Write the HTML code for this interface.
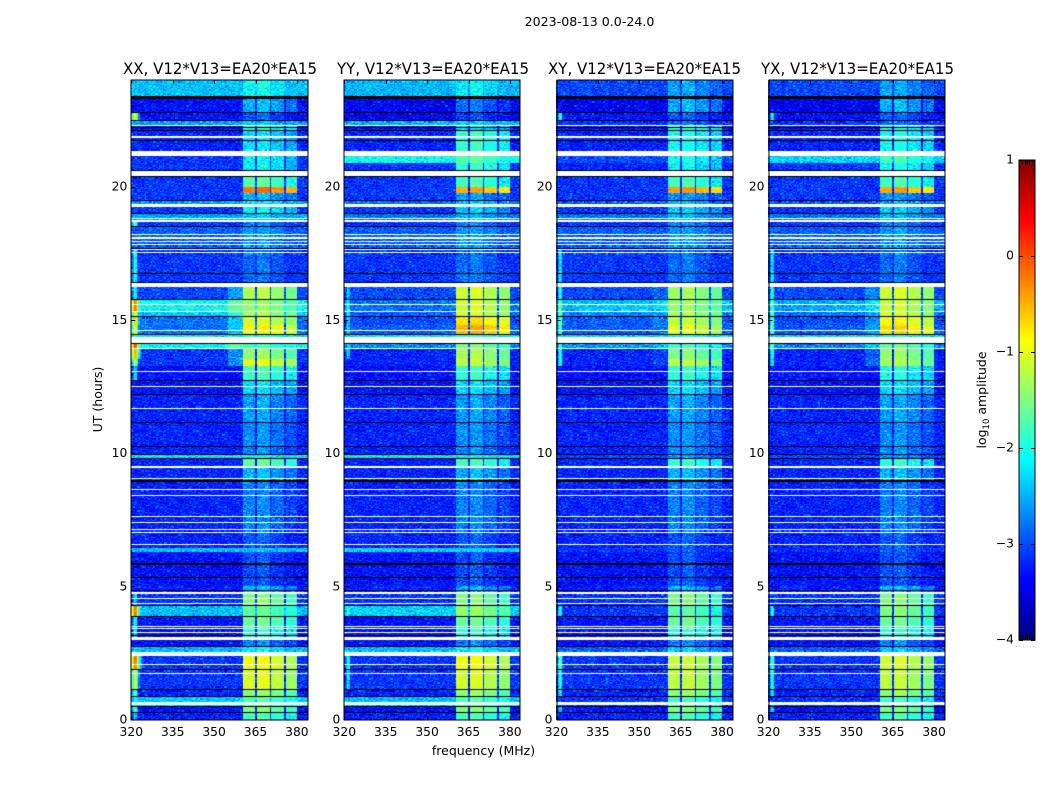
<!DOCTYPE html>
<html lang="en">
<head>
<meta charset="utf-8">
<title>2023-08-13 dynamic spectra</title>
<style>
html,body{margin:0;padding:0;background:#fff;width:1050px;height:800px;overflow:hidden}
#figure{position:relative;width:1050px;height:800px;background:#fff}
canvas{position:absolute;top:80px;display:block}
#cbar-canvas{top:160px;left:1019px}
svg{position:absolute;left:0;top:0}
text{font-family:"DejaVu Sans","Liberation Sans",sans-serif;fill:#000}
</style>
</head>
<body>
<div id="figure">
<canvas id="panel-0" width="177" height="640" style="left:131px"></canvas>
<canvas id="panel-1" width="176" height="640" style="left:344px"></canvas>
<canvas id="panel-2" width="177" height="640" style="left:556px"></canvas>
<canvas id="panel-3" width="177" height="640" style="left:768px"></canvas>
<canvas id="cbar-canvas" width="16" height="480"></canvas>
<svg id="overlay" width="1050" height="800">
<text x="589.5" y="26" font-size="12.6" text-anchor="middle">2023-08-13 0.0-24.0</text>
<text x="220" y="74" font-size="16" text-anchor="middle" textLength="194" lengthAdjust="spacingAndGlyphs">XX, V12*V13=EA20*EA15</text>
<text x="433" y="74" font-size="16" text-anchor="middle" textLength="192" lengthAdjust="spacingAndGlyphs">YY, V12*V13=EA20*EA15</text>
<text x="644.5" y="74" font-size="16" text-anchor="middle" textLength="193" lengthAdjust="spacingAndGlyphs">XY, V12*V13=EA20*EA15</text>
<text x="857.5" y="74" font-size="16" text-anchor="middle" textLength="193" lengthAdjust="spacingAndGlyphs">YX, V12*V13=EA20*EA15</text>
<text x="483.5" y="755" font-size="12.5" text-anchor="middle">frequency (MHz)</text>
<text transform="translate(102,399.5) rotate(-90)" font-size="12.5" text-anchor="middle">UT (hours)</text>
<text transform="translate(986,400) rotate(-90)" font-size="12.5" text-anchor="middle">log<tspan font-size="8.5" dy="3">10</tspan><tspan dy="-3"> amplitude</tspan></text>
</svg>
</div>
<script>
/* Hours at which each horizontal stretch of the spectrogram begins (top to bottom). */
const segmentTop = [24,23.28,22.76,22.49,22.29,22.08,21.14,20.9,20.35,19.97,19.75,19.45,19.23,18.96,18.68,18.47,17.65,16.23,15.74,15.35,15.11,14.8,14.46,14.1,13.9,13.54,13.28,12.7,12.19,11.13,9.95,9.76,9.45,8.91,7,6.45,6.28,5,4.72,4.25,3.85,3.47,2.99,2.72,2.39,1.85,1.12,0.86,0.47,0.26];

/* log10 amplitude outside the interference bands, per polarisation. */
const backgroundXX = [-2.45,-3.35,-3.35,-2.6,-3.35,-3.25,-3.15,-3.15,-3.15,-3.15,-3.15,-2.6,-3.15,-2.6,-3.15,-2.95,-3.15,-3.05,-2.1,-2.4,-2.85,-2.85,-2.2,-2.15,-3.15,-3.15,-3.35,-3.35,-3.25,-3.25,-2.25,-3.25,-3.25,-3.25,-3.25,-2.45,-3.35,-3.25,-3.15,-2.45,-3.35,-3.35,-3.35,-2.5,-3.15,-3.15,-3.25,-2.4,-3.35,-3.25];
const backgroundYY = [-2.5,-3.45,-3.45,-2.5,-3.35,-3.25,-2.1,-3.15,-3.15,-3.15,-3.15,-2.85,-3.15,-2.85,-3.15,-2.95,-3.15,-3.05,-2.85,-2.95,-3.05,-2.95,-2.2,-2.75,-3.25,-3.25,-3.35,-3.35,-3.25,-3.25,-2.25,-3.25,-3.25,-3.25,-3.25,-2.35,-3.35,-3.25,-3.15,-2.35,-3.35,-3.35,-3.35,-2.5,-3.15,-3.15,-3.25,-2.5,-3.35,-3.25];
const backgroundXY = [-3.05,-3.45,-3.35,-3.15,-3.35,-3.25,-3.05,-3.25,-3.15,-3.15,-3.15,-2.95,-3.15,-2.85,-3.15,-2.95,-3.15,-3.05,-2.45,-2.75,-2.95,-2.95,-2.3,-2.65,-3.25,-3.25,-3.35,-3.35,-3.25,-3.25,-3.05,-3.25,-3.25,-3.25,-3.25,-3.15,-3.35,-3.25,-3.15,-3.15,-3.35,-3.35,-3.35,-2.95,-3.15,-3.15,-3.25,-3.15,-3.35,-3.25];
const backgroundYX = [-3.05,-3.45,-3.35,-3.15,-3.35,-3.25,-2.35,-3.15,-3.15,-3.15,-3.15,-2.95,-3.15,-2.85,-3.15,-2.95,-3.15,-3.05,-2.55,-2.85,-3.05,-2.95,-2.3,-2.75,-3.25,-3.25,-3.35,-3.35,-3.25,-3.25,-3.05,-3.25,-3.25,-3.25,-3.25,-3.15,-3.35,-3.25,-3.15,-3.15,-3.35,-3.35,-3.35,-2.95,-3.15,-3.15,-3.25,-3.15,-3.35,-3.25];

/* log10 amplitude inside the 360-380 MHz interference bands, per polarisation. */
const interferenceXX = [-2.2,-2.6,-3.05,-2.5,-2,-2.35,-2.25,-2.25,-1.8,-0.3,-2.6,-2.45,-2.25,-2.5,-2.85,-2.75,-2.95,-1.35,-1.5,-1.4,-1.2,-0.95,-2,-1.9,-1.5,-1.1,-1.9,-2.4,-2.7,-2.8,-2.2,-1.75,-2.6,-2.85,-3.05,-2.7,-3.1,-2.6,-1.6,-1.75,-1.7,-2,-2.85,-2.25,-1.05,-1.15,-1.5,-1.8,-1.6,-1.9];
const interferenceYY = [-2.3,-2.95,-3.15,-2.5,-2.35,-1.95,-1.8,-2,-1.9,-0.55,-2.75,-2.5,-2.5,-2.6,-2.85,-2.75,-2.95,-1.2,-1.2,-1.2,-0.85,-0.6,-2,-1.6,-1.4,-1.3,-2,-2.4,-2.7,-2.8,-2.25,-1.9,-2.6,-2.85,-3.05,-2.6,-3.1,-2.6,-1.6,-1.5,-1.7,-2,-2.85,-2.25,-1.05,-1.2,-1.5,-1.8,-1.6,-1.9];
const interferenceXY = [-2.7,-2.6,-3.05,-2.95,-2,-2.15,-2.15,-2.25,-1.9,-0.5,-2.75,-2.6,-2.5,-2.6,-2.85,-2.75,-2.95,-1.45,-1.45,-1.4,-1.3,-1.1,-2.1,-1.9,-1.6,-1.3,-2,-2.4,-2.7,-2.8,-2.75,-1.95,-2.6,-2.85,-3.05,-3.05,-3.1,-2.6,-1.6,-1.8,-1.7,-2,-2.85,-2.5,-1.25,-1.3,-1.5,-1.9,-1.6,-1.9];
const interferenceYX = [-2.7,-2.6,-3.05,-2.95,-2.1,-2.15,-1.9,-2.15,-1.9,-0.55,-2.75,-2.6,-2.5,-2.6,-2.85,-2.75,-2.95,-1.2,-1.25,-1.2,-1,-0.8,-2.1,-1.7,-1.5,-1.4,-2.1,-2.4,-2.7,-2.8,-2.75,-2,-2.6,-2.85,-3.05,-3.05,-3.1,-2.6,-1.6,-1.6,-1.7,-2,-2.85,-2.5,-1.2,-1.3,-1.5,-1.9,-1.6,-1.9];

/* Peak log10 amplitude of the low-frequency edge (320-325 MHz); -9 = no edge feature. */
const edgeXX = [-9,-9,-0.9,-9,-9,-9,-9,-9,-9,-9,-9,-9,-9,-9,-1.6,-9,-1.9,-2,-0.1,-0.9,-0.6,-0.9,-1.6,0.1,-0.4,-1.2,-2.2,-9,-9,-9,-9,-9,-9,-9,-9,-9,-9,-9,-2.2,-0.1,-2,-2.2,-9,-2.2,-0.1,-1,-1.6,-2,-1.6,-2.2];
const edgeYY = [-9,-9,-9,-9,-9,-9,-9,-9,-9,-9,-9,-9,-9,-9,-9,-9,-9,-2.3,-2,-2.1,-2.2,-2.2,-9,-2.2,-2.3,-9,-9,-9,-9,-9,-9,-9,-9,-9,-9,-9,-9,-9,-9,-1.9,-9,-9,-9,-9,-2,-2.2,-9,-9,-9,-9];
const edgeXY = [-9,-9,-2,-9,-9,-9,-9,-9,-9,-9,-9,-9,-9,-9,-9,-9,-2.2,-2,-1.6,-1.6,-1.6,-1.8,-9,-1.8,-2,-2,-9,-9,-9,-9,-9,-9,-9,-9,-9,-9,-9,-9,-9,-2,-9,-9,-9,-9,-1.7,-2,-2.2,-9,-2.2,-9];
const edgeYX = [-9,-9,-2.1,-9,-9,-9,-9,-9,-9,-9,-9,-9,-9,-9,-9,-9,-2.2,-2,-1.7,-1.7,-1.7,-1.7,-9,-1.6,-2,-2.1,-9,-9,-9,-9,-9,-9,-9,-9,-9,-9,-9,-9,-9,-2,-9,-9,-9,-9,-1.8,-2,-2.2,-9,-2.2,-9];

/* Flagged time ranges in hours: white = no data, black = zero-filled. */
const whiteGapStart = [22.29,21.84,21.14,20.39,19.23,18.78,18.68,18.2,18.05,17.93,17.79,17.61,17.49,16.23,15.56,15.32,14.58,14.14,13.9,13.04,12.48,11.65,9.45,9.01,8.6,8.39,7.59,7.37,7.11,7,6.55,4.72,4.52,4.32,3.47,3.39,3.26,2.99,2.39,2.05,1.7,0.54];
const whiteGapEnd = [22.33,21.88,21.34,20.58,19.34,18.84,18.74,18.24,18.1,17.96,17.85,17.65,17.53,16.39,15.6,15.35,14.61,14.36,13.93,13.08,12.51,11.69,9.51,9.05,8.66,8.44,7.64,7.4,7.14,7.04,6.59,4.8,4.56,4.36,3.51,3.42,3.3,3.11,2.54,2.09,1.74,0.66];
const blackGapStart = [23.28,22.76,22.49,22.2,22.08,21.7,20.58,20.35,19.45,18.96,18.47,17.65,16.71,16.39,15.74,15.11,14.44,14.1,12.7,12.19,11.13,10.23,9.92,9.76,8.91,5.81,5.31,4.83,4.25,3.85,3.14,2.72,1.85,1.12,0.86,0.47,0.26];
const blackGapEnd = [23.39,22.8,22.51,22.24,22.12,21.74,20.62,20.39,19.49,19.01,18.51,17.7,16.74,16.41,15.77,15.14,14.46,14.14,12.74,12.22,11.17,10.27,9.95,9.81,8.98,5.86,5.36,4.87,4.29,3.89,3.17,2.76,1.89,1.15,0.9,0.51,0.3];

/* Frequency structure of the interference bands (MHz) and their relative level. */
const bandStart = [360.4,365.5,370.7,375.9];
const bandEnd = [364.9,370.1,375.3,380];
const bandGain = [0.08,0.15,-0.05,-0.22];

/* Raised shoulder below the bands at 355-360 MHz during the brightest hours. */
const shoulderSegments = [17,18,19,20,21,23,24,25];
const shoulderGain = [0.45,0.05,0.15,0.3];
const edgeProfile = [-1,-0.6,0,-0.2,-1,-1.8,-2.2,-2.6,-3];

/* Hand-typed grain lookup: cosmetic texture only, not values. */
const grainA = [0.12,-0.2,0.31,-0.06,-0.27,0.18,0.02,-0.14,0.42,-0.3,0.09,-0.1,0.24,-0.22,0.05,0.33,-0.17,-0.03,0.15,-0.25,0.28,-0.08,0.01,-0.29,0.2,0.07,-0.12,0.38,-0.19,-0.04,0.11];
const grainB = [-0.11,0.17,-0.24,0.08,0.29,-0.16,-0.02,0.21,-0.3,0.13,0.04,-0.09,0.34,-0.2,0.1,-0.27,0.19,0.03,-0.13,0.26,-0.06,-0.18,0.36,0.06,-0.23,0.14,-0.01,0.22,-0.28,0.09,-0.15,0.3,-0.07,0.12,-0.21,0.16,-0.04];

/* Tick labels and polarisation order. */
const polarisations = ["xx","yy","xy","yx"];
const freqTicks = [320,335,350,365,380];
const timeTicks = [0,5,10,15,20];
const colorTicks = [1,0,-1,-2,-3,-4];

const backgrounds = [backgroundXX,backgroundYY,backgroundXY,backgroundYX];
const interferences = [interferenceXX,interferenceYY,interferenceXY,interferenceYX];
const edges = [edgeXX,edgeYY,edgeXY,edgeYX];

/* Layout */
const panelLeft = [131.3,344.3,556.5,768.5];
const panelRight = [308.3,520.3,733.3,945.3];
const plotTop = 80, plotBottom = 720;
const CHANNEL_MHZ = 0.5, ROWS_PER_HOUR = 20;
const vMin = -4, vMax = 1;

const yScale = h => plotBottom - 0.4 - (h/24.0)*(plotBottom - 0.4 - plotTop);
const xScale = (f,p) => panelLeft[p] + (f-320)*2.76;
const yInverse = y => (plotBottom - 0.4 - y)*24.0/(plotBottom - 0.4 - plotTop);
const xInverse = (x,p) => 320 + (x-panelLeft[p])/2.76;
const clamp = v => Math.max(0,Math.min(1,v));
function jet(t){
  return [clamp(Math.min(4*t-1.5,-4*t+4.5)),clamp(Math.min(4*t-0.5,-4*t+3.5)),clamp(Math.min(4*t+0.5,-4*t+2.5))];
}
function segmentAt(h){
  let s = 0;
  for(let i=0;i<segmentTop.length;i++){ if(segmentTop[i]>=h) s=i; else break; }
  return s;
}
function cellValue(p,s,freq,c,r){
  const bg = backgrounds[p][s];
  let v = bg, inBand = false;
  for(let b=0;b<bandStart.length;b++){
    if(freq>=bandStart[b] && freq<bandEnd[b]){ v = Math.max(bg,interferences[p][s]+bandGain[b]); inBand = true; }
  }
  if(!inBand && freq>=355 && freq<360.4 && shoulderSegments.indexOf(s)>=0) v += shoulderGain[p];
  if(c<edgeProfile.length && edges[p][s]>-9) v = Math.max(v,edges[p][s]+edgeProfile[c]);
  const q = p*17+r*11+c*7;
  const grain = grainA[q%grainA.length]+grainB[(c*5+r*3+(c*r)%13+p*5)%grainB.length];
  return v + grain*(v<-2?0.8:0.28);
}
function drawPanel(p){
  const cv = document.getElementById("panel-"+p);
  const ctx = cv.getContext("2d");
  const originX = parseFloat(cv.style.left);
  const img = ctx.createImageData(cv.width,cv.height);
  for(let py=0;py<cv.height;py++){
    const h = yInverse(plotTop+py+0.5);
    const r = Math.floor(h*ROWS_PER_HOUR);
    const s = segmentAt(h);
    for(let px=0;px<cv.width;px++){
      const f = xInverse(originX+px+0.5,p);
      const c = Math.max(0,Math.floor((f-320)/CHANNEL_MHZ));
      const col = jet((cellValue(p,s,f,c,r)-vMin)/(vMax-vMin));
      const k = (py*cv.width+px)*4;
      img.data[k]=col[0]*255; img.data[k+1]=col[1]*255; img.data[k+2]=col[2]*255; img.data[k+3]=255;
    }
  }
  ctx.putImageData(img,0,0);
  const band = (starts,ends,color)=>{
    ctx.fillStyle = color;
    for(let i=0;i<starts.length;i++){
      const y0 = Math.round(yScale(ends[i]))-plotTop;
      const y1 = Math.round(yScale(starts[i]))-plotTop;
      ctx.fillRect(0,y0,cv.width,Math.max(1,y1-y0));
    }
  };
  band(blackGapStart,blackGapEnd,"#000");
  band(whiteGapStart,whiteGapEnd,"#fff");
}
function drawColorbar(){
  const cv = document.getElementById("cbar-canvas");
  const ctx = cv.getContext("2d");
  for(let y=0;y<cv.height;y++){
    const c = jet(1-(y+0.5)/cv.height);
    ctx.fillStyle = "rgb("+Math.round(c[0]*255)+","+Math.round(c[1]*255)+","+Math.round(c[2]*255)+")";
    ctx.fillRect(0,y,cv.width,1);
  }
}
const NS = "http://www.w3.org/2000/svg";
const svg = document.getElementById("overlay");
function addLine(x1,y1,x2,y2,stroke,name){
  const l = document.createElementNS(NS,"line");
  l.setAttribute("x1",x1);l.setAttribute("y1",y1);l.setAttribute("x2",x2);l.setAttribute("y2",y2);
  l.setAttribute("stroke",stroke);l.setAttribute("stroke-width","1");
  
  
  svg.appendChild(l);
}
function addLabel(x,y,anchor,str,name){
  const t = document.createElementNS(NS,"text");
  t.setAttribute("x",x);t.setAttribute("y",y);t.setAttribute("text-anchor",anchor);t.setAttribute("font-size","12.3");
  t.textContent = str;
  
  
  svg.appendChild(t);
}
function drawAxes(p){
  const pol = polarisations[p];
  const L = panelLeft[p], R = panelRight[p];
  const frame = document.createElementNS(NS,"rect");
  frame.setAttribute("x",Math.round(L));frame.setAttribute("y",plotTop);
  frame.setAttribute("width",Math.round(R)-Math.round(L));frame.setAttribute("height",plotBottom-plotTop);
  frame.setAttribute("fill","none");frame.setAttribute("stroke","#000");frame.setAttribute("stroke-width","1");
  
  
  svg.appendChild(frame);
  freqTicks.forEach(f=>{
    const x = Math.round(xScale(f,p))+0.5;
    addLine(x,plotBottom,x,plotBottom-4,"#000","x-tick");
    addLine(x,plotTop,x,plotTop+4,"#000","x-tick-top");
    addLabel(xScale(f,p),736,"middle",String(f),"x-tick-label-"+pol);
  });
  timeTicks.forEach(h=>{
    const y = Math.round(yScale(h))+0.5;
    if(h>0){
      addLine(L,y,L+4,y,"#000","y-tick");
      addLine(R,y,R-4,y,"#000","y-tick-right");
    }
    addLabel(L-4,yScale(h)+4,"end",String(h),"y-tick-label-"+pol);
  });
}
function drawColorbarAxis(){
  const frame = document.createElementNS(NS,"rect");
  frame.setAttribute("x",1019);frame.setAttribute("y",160);frame.setAttribute("width",16);frame.setAttribute("height",480);
  frame.setAttribute("fill","none");frame.setAttribute("stroke","#000");frame.setAttribute("stroke-width","1");
  
  
  svg.appendChild(frame);
  colorTicks.forEach(v=>{
    const y = 160+(vMax-v)/(vMax-vMin)*480;
    addLine(1019,Math.round(y)+0.5,1023,Math.round(y)+0.5,"#000","colorbar-tick");
    addLine(1035,Math.round(y)+0.5,1031,Math.round(y)+0.5,"#000","colorbar-tick-right");
    addLabel(1014,y+3.5,"end",v<0?"\u2212"+Math.abs(v):String(v),"colorbar-tick-label");
  });
  [0.2,0.35,0.5,0.65,0.8].forEach(fr=>{
    const x = Math.round(1019+fr*16)+0.5;
    addLine(x,160,x,165,"#000","colorbar-minor-tick");
    addLine(x,640,x,635,"#000","colorbar-minor-tick");
  });
  const dots = document.createElementNS(NS,"text");
  dots.setAttribute("x",1026);dots.setAttribute("y",647);dots.setAttribute("text-anchor","middle");
  dots.setAttribute("font-size","6");dots.setAttribute("letter-spacing","1.5");dots.setAttribute("style","fill:#888");
  dots.textContent = "......";
  
  
  svg.appendChild(dots);
}
for(let p=0;p<polarisations.length;p++){ drawPanel(p); drawAxes(p); }
drawColorbar();
drawColorbarAxis();
</script>
</body>
</html>
